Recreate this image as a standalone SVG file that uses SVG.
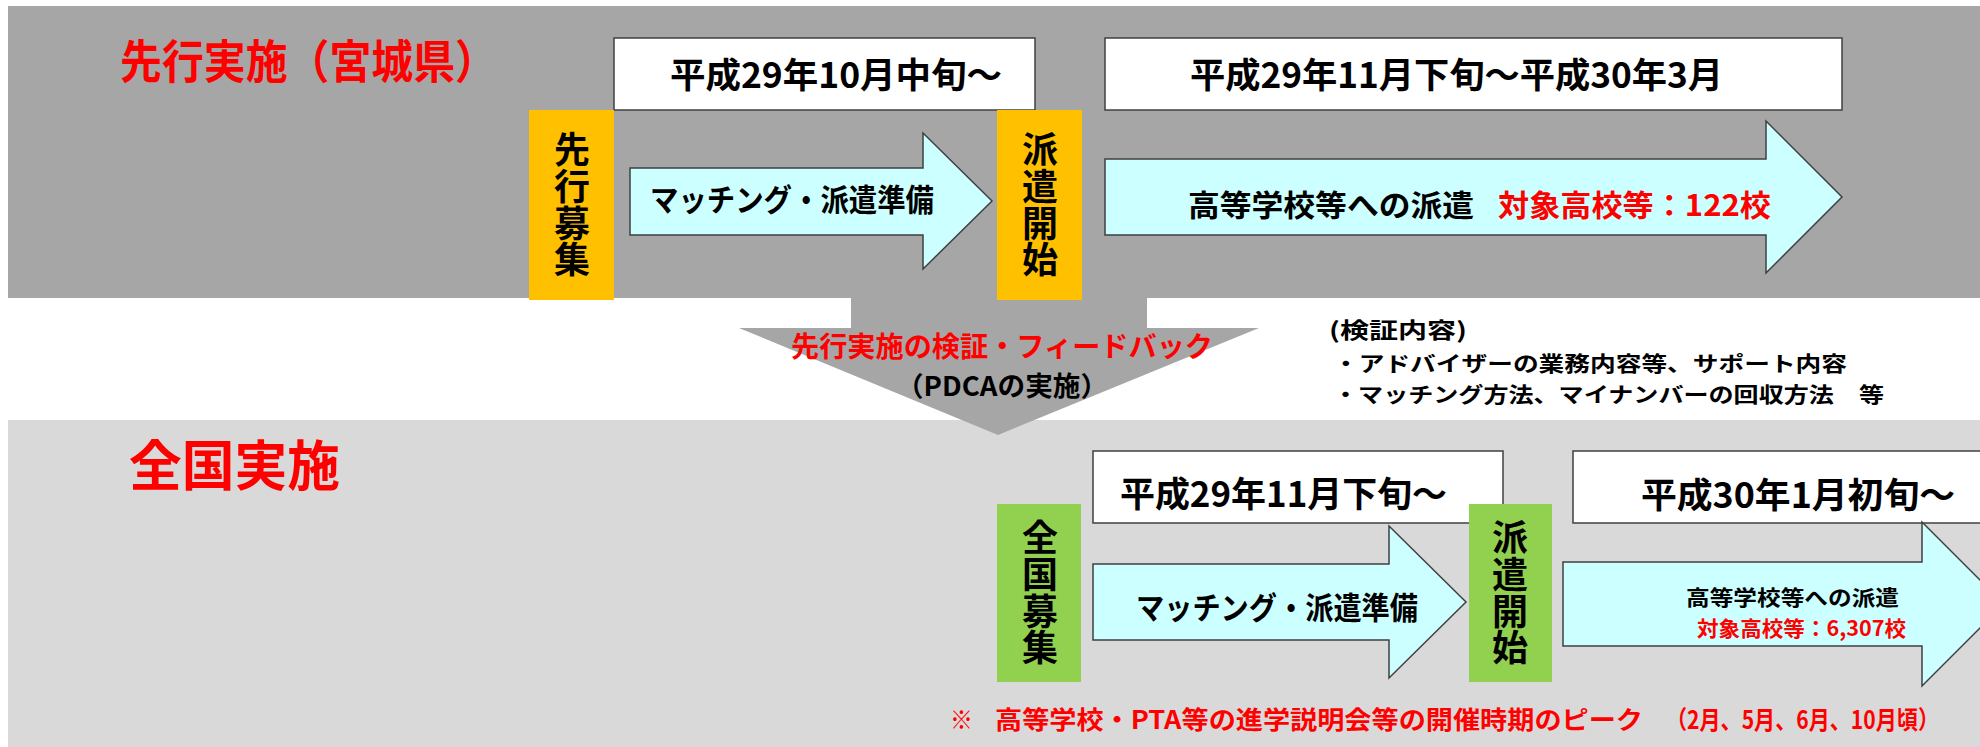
<svg xmlns="http://www.w3.org/2000/svg" width="1980" height="747" viewBox="0 0 1980 747">
<style>
text{font-family:"Noto Sans CJK JP","Noto Sans CJK SC",sans-serif;font-weight:bold;}
.red{fill:#FF0000;}
.blk{fill:#000000;}
.box{fill:#FFFFFF;stroke:#404040;stroke-width:1.5;}
.arr{fill:#CCFFFF;stroke:#404040;stroke-width:1.5;}
.org{fill:#FFC000;}
.grn{fill:#92D050;}
.mid{text-anchor:middle;}
.vert{writing-mode:vertical-rl;text-anchor:middle;font-size:36px;letter-spacing:0.8px;fill:#000000;}
</style>
<rect x="0" y="0" width="1980" height="747" fill="#FFFFFF"/>
<g id="bands">
<rect x="8" y="6" width="1972" height="292" fill="#A6A6A6"/>
<rect x="8" y="420" width="1972" height="327" fill="#D9D9D9"/>
</g>
<g id="connectors">
<polygon points="851,290 1147,290 1147,328 1259,328 998,435 739,328 851,328" fill="#A6A6A6"/>
</g>
<g id="title-top"><text class="red" x="120" y="78" font-size="46" textLength="377" lengthAdjust="spacingAndGlyphs">先行実施（宮城県）</text></g>
<g id="title-bottom"><text class="red" x="129" y="486" font-size="54" textLength="211" lengthAdjust="spacingAndGlyphs">全国実施</text></g>

<g id="date1"><rect class="box" x="614" y="38" width="421" height="72"/>
<text class="blk" x="670" y="88" font-size="35" textLength="332" lengthAdjust="spacingAndGlyphs">平成29年10月中旬～</text></g>
<g id="date2"><rect class="box" x="1105" y="38" width="737" height="72"/>
<text class="blk" x="1190" y="88" font-size="35" textLength="533" lengthAdjust="spacingAndGlyphs">平成29年11月下旬～平成30年3月</text></g>

<g id="recruit-pilot"><rect class="org" x="529" y="110" width="85" height="190"/>
<text class="vert" x="572" y="205">先行募集</text></g>
<g id="dispatch-pilot"><rect class="org" x="997" y="110" width="85" height="190"/>
<text class="vert" x="1040" y="205">派遣開始</text></g>

<g id="matching-pilot"><polygon class="arr" points="630,168 923,168 923,133 992,201 923,269 923,235 630,235"/>
<text class="blk" x="650" y="211" font-size="31" textLength="284" lengthAdjust="spacingAndGlyphs">マッチング・派遣準備</text></g>
<g id="dispatch-arrow-pilot"><polygon class="arr" points="1105,159 1766,159 1766,121 1842,197 1766,273 1766,235 1105,235"/>
<text class="blk" x="1188" y="216" font-size="30" textLength="286" lengthAdjust="spacingAndGlyphs">高等学校等への派遣</text>
<text class="red" x="1498" y="216" font-size="30" textLength="273" lengthAdjust="spacingAndGlyphs">対象高校等：122校</text></g>

<g id="feedback"><text class="red mid" x="1002" y="357" font-size="28" textLength="422" lengthAdjust="spacingAndGlyphs">先行実施の検証・フィードバック</text>
<text class="blk mid" x="1002" y="396" font-size="27" textLength="212" lengthAdjust="spacingAndGlyphs">（PDCAの実施）</text></g>

<g id="verification">
<text class="blk" x="1329" y="338" font-size="22" textLength="138" lengthAdjust="spacingAndGlyphs">(検証内容)</text>
<text class="blk" x="1333" y="371" font-size="21" textLength="514" lengthAdjust="spacingAndGlyphs">・アドバイザーの業務内容等、サポート内容</text>
<text class="blk" x="1333" y="402" font-size="21" textLength="551" lengthAdjust="spacingAndGlyphs">・マッチング方法、マイナンバーの回収方法　等</text>
</g>

<g id="date3"><rect class="box" x="1093" y="451" width="410" height="72"/>
<text class="blk" x="1120" y="507" font-size="35" textLength="327" lengthAdjust="spacingAndGlyphs">平成29年11月下旬～</text></g>
<g id="date4"><rect class="box" x="1573" y="451" width="420" height="72"/>
<text class="blk" x="1641" y="508" font-size="35" textLength="314" lengthAdjust="spacingAndGlyphs">平成30年1月初旬～</text></g>

<g id="recruit-national"><rect class="grn" x="997" y="504" width="84" height="178"/>
<text class="vert" x="1040" y="593">全国募集</text></g>
<g id="dispatch-national"><rect class="grn" x="1469" y="504" width="83" height="178"/>
<text class="vert" x="1510" y="593">派遣開始</text></g>

<g id="matching-national"><polygon class="arr" points="1093,564 1389,564 1389,526 1466,602 1389,678 1389,640 1093,640"/>
<text class="blk" x="1136" y="619" font-size="31" textLength="282" lengthAdjust="spacingAndGlyphs">マッチング・派遣準備</text></g>
<g id="dispatch-arrow-national"><polygon class="arr" points="1563,562 1922,562 1922,522 2004,604 1922,686 1922,646 1563,646"/>
<text class="blk" x="1686" y="605" font-size="21" textLength="213" lengthAdjust="spacingAndGlyphs">高等学校等への派遣</text>
<text class="red" x="1697" y="636" font-size="21" textLength="209" lengthAdjust="spacingAndGlyphs">対象高校等：6,307校</text></g>

<g id="note">
<text class="red" x="950" y="729" font-size="25" textLength="23" lengthAdjust="spacingAndGlyphs">※</text>
<text class="red" x="995" y="729" font-size="25" textLength="648" lengthAdjust="spacingAndGlyphs">高等学校・PTA等の進学説明会等の開催時期のピーク</text>
<text class="red" x="1666" y="729" font-size="25" textLength="273" lengthAdjust="spacingAndGlyphs">（2月、5月、6月、10月頃）</text>
</g>
</svg>
